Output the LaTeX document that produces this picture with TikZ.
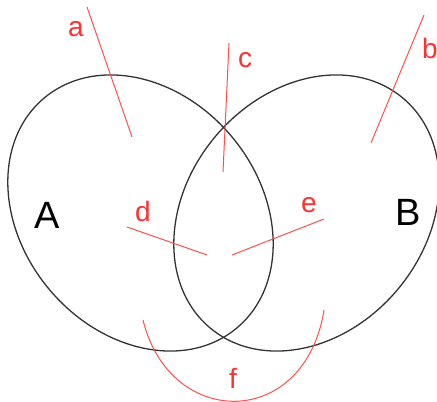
\documentclass[tikz,border=0pt]{standalone}
\usepackage{fontspec}
\setmainfont{Liberation Sans}
\usepackage{xcolor}
\usetikzlibrary{positioning}
\definecolor{setgray}{HTML}{333333}
\definecolor{markred}{HTML}{FF3030}

\begin{document}
\begin{tikzpicture}[
      x=1pt, y=1pt,
      setline/.style={draw=setgray, line width=1.3pt},
      pointer/.style={draw=markred!85, line width=1pt},
      setname/.style={font=\fontsize{38}{40}\selectfont, text=black, inner sep=0pt},
      tag/.style={font=\fontsize{28}{30}\selectfont, text=markred, inner sep=0pt}
    ]
      \useasboundingbox (0,0) rectangle (437,402);
      \draw[setline, rotate around={-50:(140.5,189)}] (140.5,189) ellipse [x radius=150, y radius=119];
      \draw[setline, rotate around={50:(306.5,189)}] (306.5,189) ellipse [x radius=150, y radius=119];
      \node[setname] (setA) at (47,187) {A};
      \node[setname] (setB) at (408,190) {B};
      \node[tag] (tagA) at (76,373) {a};
      \node[tag] (tagB) at (430,354) {b};
      \node[tag] (tagC) at (245,342) {c};
      \node[tag] (tagD) at (143,191) {d};
      \node[tag] (tagE) at (309,197) {e};
      \node[tag] (tagF) at (233,24) {f};
      \coordinate (a1) at (87,395);
      \coordinate (a2) at (132,265);
      \coordinate (b1) at (424,387);
      \coordinate (b2) at (371,259);
      \coordinate (c1) at (229,359);
      \coordinate (c2) at (223,230);
      \coordinate (d1) at (127,175);
      \coordinate (d2) at (207,147);
      \coordinate (e1) at (324,183);
      \coordinate (e2) at (232,147);
      \coordinate (f1) at (143,82);
      \coordinate (f2) at (324,92);
      \draw[pointer] (a1) -- (a2);
      \draw[pointer] (b1) -- (b2);
      \draw[pointer] (c1) -- (c2);
      \draw[pointer] (d1) -- (d2);
      \draw[pointer] (e1) -- (e2);
      \draw[pointer] (f1) .. controls (170,-28) and (305,-28) .. (f2);
    \end{tikzpicture}
\end{document}
